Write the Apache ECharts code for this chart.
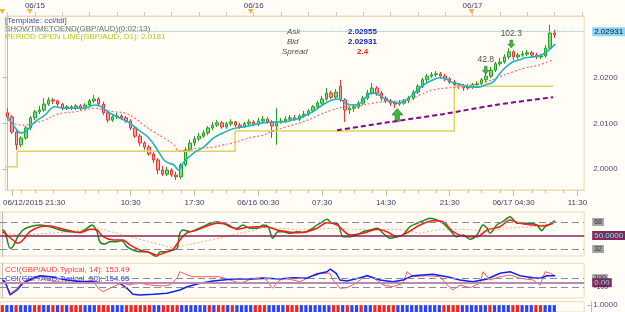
<!DOCTYPE html>
<html><head><meta charset="utf-8">
<script src="https://cdn.jsdelivr.net/npm/echarts@6/dist/echarts.min.js"></script>
<style>html,body{margin:0;padding:0;background:#fffdf6;}#c{width:625px;height:312px;}</style>
</head><body><div id="c"></div>
<script>
const FONT = "'Liberation Sans', Arial, sans-serif";

// ---- time categories (30-minute bars) ----
const fridayTimes = ['21:00','21:30','22:00','22:30','23:00','23:30'];
const timeCats = (function(){
  const out = fridayTimes.map(t => '06/12 ' + t);
  let day = 15, m = 0;
  while (out.length < 127) {
    const hh = String(Math.floor(m/60)).padStart(2,'0'), mm = String(m%60).padStart(2,'0');
    out.push('06/' + day + ' ' + hh + ':' + mm);
    m += 30; if (m >= 1440) { m = 0; day++; }
  }
  return out;
})();
const bottomTickIdx  = [1, 27, 41, 55, 69, 83, 97, 111, 125];
const bottomTickText = ['06/12/2015 21:30','10:30','17:30','06/16 00:30','07:30','14:30','21:30','06/17 04:30','11:30'];
const topTickIdx  = [6, 54, 102];
const topTickText = ['06/15','06/16','06/17'];
const dayMarkerIdx = [0, 6, 54, 102];
const priceTicks = [2.0000, 2.0100, 2.0200];

// ---- GBP/AUD candles [open, close, low, high] ----
const candles = [
[2.0123,2.0114,2.0109,2.0133],[2.0114,2.0081,2.0077,2.0118],[2.0081,2.0053,2.0042,2.0085],[2.0053,2.0068,2.0048,2.0072],
[2.0068,2.0090,2.0064,2.0094],[2.0090,2.0112,2.0085,2.0116],[2.0112,2.0125,2.0107,2.0129],[2.0125,2.0129,2.0120,2.0138],
[2.0129,2.0142,2.0125,2.0155],[2.0142,2.0151,2.0138,2.0157],[2.0151,2.0149,2.0142,2.0155],[2.0149,2.0142,2.0136,2.0151],
[2.0142,2.0133,2.0129,2.0144],[2.0133,2.0136,2.0129,2.0140],[2.0136,2.0133,2.0129,2.0140],[2.0133,2.0138,2.0129,2.0142],
[2.0138,2.0133,2.0129,2.0142],[2.0133,2.0140,2.0131,2.0144],[2.0140,2.0149,2.0136,2.0153],[2.0149,2.0153,2.0144,2.0162],
[2.0153,2.0142,2.0138,2.0157],[2.0142,2.0123,2.0118,2.0147],[2.0123,2.0107,2.0101,2.0127],[2.0107,2.0114,2.0103,2.0120],
[2.0114,2.0116,2.0109,2.0123],[2.0116,2.0112,2.0107,2.0120],[2.0112,2.0105,2.0101,2.0116],[2.0105,2.0090,2.0085,2.0109],
[2.0090,2.0072,2.0068,2.0094],[2.0072,2.0057,2.0050,2.0077],[2.0057,2.0048,2.0042,2.0061],[2.0048,2.0033,2.0029,2.0053],
[2.0033,2.0020,2.0013,2.0037],[2.0020,1.9998,1.9989,2.0024],[1.9998,1.9989,1.9985,2.0007],[1.9989,1.9998,1.9985,2.0005],
[1.9998,1.9987,1.9983,2.0002],[1.9987,1.9983,1.9976,1.9994],[1.9983,2.0009,1.9978,2.0013],[2.0009,2.0042,2.0005,2.0048],
[2.0042,2.0057,2.0037,2.0064],[2.0057,2.0066,2.0050,2.0072],[2.0066,2.0072,2.0061,2.0079],[2.0072,2.0079,2.0068,2.0085],
[2.0079,2.0090,2.0074,2.0094],[2.0090,2.0096,2.0085,2.0103],[2.0096,2.0101,2.0092,2.0107],[2.0101,2.0092,2.0088,2.0105],
[2.0092,2.0099,2.0088,2.0103],[2.0099,2.0103,2.0094,2.0109],[2.0103,2.0096,2.0092,2.0105],[2.0096,2.0092,2.0088,2.0101],
[2.0092,2.0099,2.0090,2.0103],[2.0099,2.0103,2.0094,2.0109],[2.0103,2.0099,2.0094,2.0107],[2.0099,2.0105,2.0094,2.0112],
[2.0105,2.0109,2.0101,2.0116],[2.0109,2.0103,2.0099,2.0114],[2.0103,2.0094,2.0068,2.0107],[2.0094,2.0103,2.0053,2.0133],
[2.0103,2.0105,2.0099,2.0112],[2.0105,2.0109,2.0101,2.0116],[2.0109,2.0112,2.0105,2.0118],[2.0112,2.0109,2.0105,2.0118],
[2.0109,2.0116,2.0105,2.0120],[2.0116,2.0120,2.0112,2.0127],[2.0120,2.0127,2.0116,2.0131],[2.0127,2.0136,2.0123,2.0140],
[2.0136,2.0144,2.0131,2.0149],[2.0144,2.0153,2.0140,2.0160],[2.0153,2.0166,2.0149,2.0177],[2.0166,2.0157,2.0153,2.0171],
[2.0157,2.0168,2.0153,2.0175],[2.0181,2.0151,2.0147,2.0195],[2.0151,2.0129,2.0103,2.0155],[2.0129,2.0133,2.0120,2.0138],
[2.0133,2.0136,2.0125,2.0142],[2.0136,2.0144,2.0131,2.0149],[2.0144,2.0155,2.0140,2.0160],[2.0155,2.0166,2.0151,2.0173],
[2.0166,2.0177,2.0162,2.0188],[2.0177,2.0166,2.0160,2.0181],[2.0166,2.0155,2.0149,2.0171],[2.0155,2.0149,2.0144,2.0160],
[2.0149,2.0144,2.0138,2.0153],[2.0144,2.0142,2.0133,2.0149],[2.0142,2.0144,2.0138,2.0151],[2.0144,2.0149,2.0140,2.0153],
[2.0149,2.0155,2.0144,2.0160],[2.0155,2.0168,2.0151,2.0173],[2.0168,2.0181,2.0164,2.0186],[2.0181,2.0195,2.0177,2.0199],
[2.0195,2.0203,2.0190,2.0208],[2.0203,2.0206,2.0199,2.0212],[2.0206,2.0208,2.0201,2.0214],[2.0208,2.0203,2.0199,2.0212],
[2.0203,2.0197,2.0192,2.0208],[2.0197,2.0190,2.0186,2.0201],[2.0190,2.0184,2.0173,2.0195],[2.0184,2.0181,2.0175,2.0188],
[2.0181,2.0177,2.0171,2.0186],[2.0177,2.0179,2.0173,2.0186],[2.0179,2.0184,2.0175,2.0188],[2.0184,2.0186,2.0179,2.0192],
[2.0186,2.0195,2.0181,2.0199],[2.0195,2.0203,2.0190,2.0210],[2.0203,2.0216,2.0199,2.0223],[2.0216,2.0230,2.0212,2.0234],
[2.0230,2.0234,2.0225,2.0243],[2.0234,2.0245,2.0230,2.0251],[2.0245,2.0256,2.0240,2.0264],[2.0256,2.0245,2.0238,2.0260],
[2.0245,2.0249,2.0240,2.0254],[2.0249,2.0251,2.0245,2.0258],[2.0251,2.0254,2.0247,2.0260],[2.0254,2.0249,2.0245,2.0258],
[2.0249,2.0245,2.0240,2.0254],[2.0245,2.0247,2.0240,2.0251],[2.0247,2.0264,2.0243,2.0271],[2.0264,2.0297,2.0260,2.0315],
[2.0297,2.02931,2.0286,2.0304]
];
const bidPrice = 2.02931;

// ---- overlays on price panel: [bar index, value] ----
const fastMA = [[0,2.0114],[1.7,2.0090],[2.8,2.0079],[3.8,2.0081],[6,2.0103],[8.2,2.0118],[10.4,2.0136],[12.5,2.0133],[16.9,2.0133],
[19.1,2.0140],[20.6,2.0136],[22.3,2.0123],[24.5,2.0112],[26.7,2.0101],[28.8,2.0085],[31,2.0068],[33.2,2.0037],[34.3,2.0020],
[35.4,2.0013],[36.5,2.0009],[37.5,1.9998],[38.6,2.0015],[40.8,2.0035],[43,2.0048],[45.2,2.0068],[47.3,2.0079],[49.5,2.0088],
[51.7,2.0092],[53.8,2.0096],[56,2.0101],[58.2,2.0103],[60.4,2.0103],[62.5,2.0107],[64.7,2.0114],[66.9,2.0125],[69.1,2.0140],
[71.2,2.0151],[72.8,2.0153],[74.1,2.0144],[75.6,2.0140],[77.1,2.0142],[78.4,2.0155],[79.9,2.0166],[81.5,2.0162],[82.8,2.0153],
[84.3,2.0147],[85.8,2.0144],[87.1,2.0149],[88.6,2.0160],[90.4,2.0177],[91.9,2.0188],[93.4,2.0195],[94.7,2.0199],[96.2,2.0197],
[97.8,2.0188],[99.1,2.0186],[100.6,2.0181],[102.1,2.0179],[103.4,2.0179],[104.9,2.0184],[106.5,2.0190],[107.8,2.0206],
[109.3,2.0223],[110.8,2.0234],[112.1,2.0238],[113.6,2.0243],[115.2,2.0245],[116.5,2.0247],[118,2.0254],[119.5,2.0267],[120.2,2.0273]];
const slowMA = [[0,2.0107],[2.8,2.0096],[3.8,2.0096],[6,2.0101],[8.2,2.0107],[10.4,2.0118],[12.5,2.0123],[14.7,2.0125],[16.9,2.0129],
[19.1,2.0133],[21.2,2.0129],[23.4,2.0125],[25.6,2.0123],[27.8,2.0112],[29.9,2.0096],[32.1,2.0081],[34.3,2.0068],[36.5,2.0053],
[37.5,2.0040],[39.7,2.0042],[41.9,2.0046],[45.2,2.0048],[47.3,2.0053],[49.5,2.0057],[51.7,2.0064],[53.8,2.0070],[56,2.0074],
[58.2,2.0083],[61,2.0092],[65.4,2.0105],[68.4,2.0118],[71.2,2.0129],[74.1,2.0136],[77.1,2.0138],[79.9,2.0144],[82.8,2.0147],
[85.8,2.0149],[88.6,2.0153],[90.4,2.0162],[93.4,2.0173],[96.2,2.0177],[99.1,2.0179],[102.1,2.0184],[104.9,2.0190],[107.8,2.0201],
[110.8,2.0212],[113.6,2.0221],[116.5,2.0227],[119.5,2.0238]];
const trendMA = [[72.3,2.0085],[84,2.0103],[95.5,2.0120],[107,2.0140],[119.7,2.0157]];
const periodOpen = [[-0.5,2.0005],[2.1,2.0039],[49.9,2.0083],[98,2.0181],[119.7,2.0181]];
const arrowsDown = [{name:'42.8', value:[104.9,2.0216]},{name:'102.3', value:[110.5,2.0273]}];
const arrowsUp = [{name:'', value:[85.5,2.0118]}];

// ---- TDI panel ----
const tdiPrice = [[0,57.3],[0.6,55.1],[1.7,32.9],[2.3,35.1],[3.4,48.4],[4.5,57.3],[6,61.7],[8.2,64],[10.4,61.7],[12.5,57.3],[14.7,55.1],
[16.9,54.3],[18.4,59.6],[19.5,64],[20.6,55.1],[21.2,41.7],[22.3,38.7],[23.4,41.7],[24.9,41.7],[26,43.1],[27.1,35.1],[28.4,30.7],
[29.9,28.4],[31.5,28.4],[32.8,24],[33.6,21.7],[34.3,28.4],[35.8,28.4],[37.1,30.7],[38,32.9],[38.6,52.9],[39.3,57.3],[40.8,55.1],
[42.3,58.3],[43.6,61.7],[45.2,66.3],[46.7,68.4],[48,66.3],[49.5,61.7],[51,59.6],[52.3,64],[53.8,59.6],[55.4,59.6],[56.7,64],
[57.8,61.7],[58.8,46.3],[59.9,55.1],[61,55.1],[62.5,52.9],[64.1,55.1],[65.4,54],[66.9,57.3],[68.4,64],[69.1,66.3],[70.6,71.6],
[71.7,66.3],[72.8,66.3],[74.1,48.4],[75.6,48.4],[77.1,50.7],[78.4,55.1],[79.9,57.3],[81.5,59.6],[82.8,52.9],[84.3,46.3],[85.8,48.4],
[87.1,50.7],[88.6,61.7],[90.2,66.3],[91.5,69.7],[93,72.9],[94.5,70.7],[95.8,66.3],[97.3,57.3],[98.8,48.4],[100.2,50.7],[101.7,44.9],
[103.2,50.7],[104.5,64],[105.4,59.6],[106,52.9],[107.5,64],[108.8,68.4],[110.4,75.1],[111.9,66.3],[113.2,66.3],[114.7,66.3],
[116.2,64],[117.3,56.4],[118,61.7],[119.1,65.3],[120.2,69.7]];
const tdiSignal = [[0,55.1],[1,50.7],[2.3,44],[3.4,39.6],[4.5,44],[6,55.1],[8.2,61.7],[10.4,62.7],[12.5,59.6],[14.7,56.4],[16.9,53.7],
[19.1,58.3],[20.6,57.3],[21.9,48.4],[24.1,44],[26.2,44],[27.8,37.3],[29.9,30.7],[32.1,27.1],[33.6,24],[35.8,28.4],[37.1,31.6],
[38.6,44],[40.2,53.7],[42.3,57.3],[44.5,62.7],[46.7,66.3],[48.8,64.9],[51,58.3],[53.2,60.9],[55.4,61.7],[57.5,61.7],[59.7,57.3],
[61.9,55.1],[64.1,53.7],[66.2,55.1],[68.4,59.6],[70.6,67.1],[72.8,64],[75.6,50.7],[78.4,52.9],[81.5,58.3],[83.6,55.1],[85.8,48.4],
[88,53.7],[90.8,64],[93.6,69.7],[95.8,68.4],[98,55.1],[101,48.4],[103.2,48.4],[105.4,57.3],[108.2,61.7],[110.4,70.7],[112.5,66.3],
[115.4,64],[117.5,62.7],[119.7,66.3]];
const tdiBase = [[0.6,53.3],[3.8,50.7],[8.2,52],[14.1,54.7],[20.6,60],[28.8,46.7],[37.1,33.3],[47.3,46.7],[57.5,61.3],[64.7,57.3],
[71.9,59.6],[79.3,57.3],[86.5,58.3],[90.8,53],[95.2,58.3],[101,58.3],[105.4,55.1],[109.7,59.6],[115.4,61.7],[119.7,66.3]];
const tdiLevels = [68, 50, 32];

// ---- CCI panel ----
const cci14 = [[0,60],[0.6,22],[1.7,-236],[2.8,-162],[3.8,-51],[5.4,60],[6.7,98],[8.2,133],[9.7,98],[11,22],[14.1,9],[16.2,-13],
[18.4,38],[19.7,60],[20.8,-124],[21.9,-200],[23.4,-124],[24.9,-51],[26.2,-13],[27.8,-51],[28.4,-29],[30.1,-13],[32.1,-51],[34.9,-73],
[36.5,-51],[38,104],[38.6,244],[40.2,171],[41.5,133],[44.5,133],[47.3,133],[49.5,60],[51.7,-13],[54.5,98],[57,120],[58.2,-51],
[58.8,-124],[59.9,22],[61,98],[63.2,60],[64.7,22],[66.9,133],[68.4,209],[71.2,209],[71.9,60],[73.4,-124],[74.9,-111],[76.2,-51],
[77.8,60],[79.3,171],[80.6,111],[82.8,-51],[84.9,-89],[87.1,-13],[88,244],[89.3,133],[92.3,156],[95.2,133],[96.7,-51],[98,-162],
[99.5,-51],[101.7,-111],[103.8,-13],[104.5,244],[106,60],[108.2,133],[110.4,171],[112.5,98],[115.4,60],[116.9,-51],[118,244],
[119.1,209],[120.2,153]];
const cci50 = [[0,60],[0.6,22],[1.7,-273],[3.2,-162],[4.5,-13],[6.7,98],[8.2,156],[10.5,133],[11.9,98],[14.1,60],[16.9,22],[19.7,22],
[22.8,-13],[25.6,-13],[27.1,-124],[28.4,-258],[29.9,-273],[32.8,-258],[35.8,-236],[38.6,-162],[40.2,-89],[43,-13],[45.8,38],[50.2,82],
[54.5,82],[57.5,98],[60.4,82],[63.2,111],[66.2,98],[67.5,156],[69.1,209],[70.6,244],[71.3,304],[72.6,209],[73.4,60],[74.9,38],
[77.8,111],[79.3,156],[82.1,60],[84.9,22],[87.1,60],[89.3,156],[93.6,187],[96.7,133],[99.5,60],[102.3,22],[105.4,82],[108.2,209],
[110.4,244],[112.5,156],[115.4,111],[116.9,98],[118.4,156],[120.2,155]];
const cciLevels = [100, 0, -100];

// ---- colour strip: R = red, B = blue, one per bar ----
const stripColors = "RBBRBBBRRB"+"BRBRBRRRBB"+"BRRRBBBRRR"+"RRRBBRRRRB"+"BBBBBRBRRB"+"RBBBBRRRBB"+"BBRRRBBBBB"+
                    "BBRRBRBBRB"+"BRRRRRBBBB"+"BBBBBBRRRR"+"BBBBBBRBBB"+"BRRBBBRRBB"+"B";

// ---------------------------------------------------------------
const chart = echarts.init(document.getElementById('c'), null, {renderer:'canvas'});
const GL = 0, GW = 584.2;
const frame = '#efd8b6';
const axisTxt = '#3c3c6e';

function lvlLabel(text, bg, fg, fs){ return {show:true, position:'end', distance:8, formatter:text, backgroundColor:bg, color:fg,
  padding:[1,2,0,2], fontSize:fs||8, fontFamily:FONT}; }

const option = {
  backgroundColor:'#fffdf6',
  animation:false,
  grid:[
    {left:GL, width:GW, top:16, height:174, show:true, borderColor:frame, borderWidth:1},
    {left:GL, width:GW, top:212, height:44, show:true, borderColor:frame, borderWidth:1},
    {left:GL, width:GW, top:263.3, height:34.7, show:true, borderColor:frame, borderWidth:1},
    {left:GL, width:GW, top:301.7, height:10.3, show:true, borderColor:frame, borderWidth:1},
    {left:GL, width:GW, top:8, height:7}
  ],
  xAxis:[
    {type:'category', gridIndex:0, data:timeCats, boundaryGap:true, position:'bottom',
     axisLine:{show:true, lineStyle:{color:frame}},
     axisTick:{show:true, alignWithLabel:true, length:6, interval:(i)=>bottomTickIdx.includes(i), lineStyle:{color:'#c9bba2'}},
     axisLabel:{show:true, margin:9, interval:(i)=>bottomTickIdx.includes(i), color:axisTxt, fontSize:8, fontFamily:FONT,
       formatter:(v,i)=>{const j=bottomTickIdx.indexOf(i); return j===0?('{f|'+bottomTickText[0]+'}'):bottomTickText[j];},
       rich:{f:{padding:[0,0,0,44], color:axisTxt, fontSize:8, fontFamily:FONT}}},
     splitLine:{show:false}},
    {type:'category', gridIndex:0, data:timeCats, boundaryGap:true, position:'top',
     axisLine:{show:true, lineStyle:{color:frame}},
     axisTick:{show:true, alignWithLabel:true, length:4, interval:(i)=>i%6===0, lineStyle:{color:'#c8c8c8'}},
     axisLabel:{show:true, margin:6, interval:(i)=>topTickIdx.includes(i), color:axisTxt, fontSize:8, fontFamily:FONT,
       formatter:(v,i)=>topTickText[topTickIdx.indexOf(i)]},
     splitLine:{show:false}},
    {type:'value', gridIndex:0, min:-0.5, max:126.5, show:false},
    {type:'category', gridIndex:0, data:timeCats, boundaryGap:true, position:'bottom',
     axisLine:{show:false}, axisLabel:{show:false},
     axisTick:{show:true, alignWithLabel:true, length:3, interval:(i)=>{const r=((i-27)%14+14)%14; return r===4||r===7||r===11;}, lineStyle:{color:'#c9bba2'}}},
    {type:'value', gridIndex:1, min:-0.5, max:126.5, show:false},
    {type:'value', gridIndex:2, min:-0.5, max:126.5, show:false},
    {type:'category', gridIndex:3, data:timeCats, boundaryGap:true, show:false},
    {type:'category', gridIndex:4, data:timeCats, boundaryGap:true, show:false}
  ],
  yAxis:[
    {type:'value', gridIndex:0, min:1.995437, max:2.033428, position:'right', offset:7, scale:true,
     axisLine:{show:true, lineStyle:{color:'#b8b8cc'}}, splitLine:{show:false},
     axisTick:{show:true, inside:true, length:5, customValues:priceTicks, lineStyle:{color:'#b8b8cc'}},
     axisLabel:{show:true, customValues:priceTicks, formatter:(v)=>v.toFixed(4), color:'#4a4a7c', fontSize:8, fontFamily:FONT, margin:2}},
    {type:'value', gridIndex:1, min:22.667, max:81.333, position:'right', offset:7,
     axisLine:{show:true, lineStyle:{color:'#b8b8cc'}}, splitLine:{show:false}, axisTick:{show:false}, axisLabel:{show:false}},
    {type:'value', gridIndex:2, min:-340, max:431, position:'right', offset:7,
     axisLine:{show:true, lineStyle:{color:'#b8b8cc'}}, splitLine:{show:false}, axisTick:{show:false}, axisLabel:{show:false}},
    {type:'value', gridIndex:3, min:0, max:1.5, position:'right', offset:7,
     axisLine:{show:true, lineStyle:{color:'#b8b8cc'}}, splitLine:{show:false},
     axisTick:{show:true, inside:true, length:4, customValues:[1], lineStyle:{color:'#b8b8cc'}},
     axisLabel:{show:true, customValues:[1], formatter:()=> '1.0000', color:'#4a4a7c', fontSize:8, fontFamily:FONT, margin:2}},
    {type:'value', gridIndex:4, min:0, max:1, show:false}
  ],
  series:[
    {type:'candlestick', xAxisIndex:0, yAxisIndex:0, data:candles, barWidth:3,
     itemStyle:{color:'#86d886', borderColor:'#22a022', color0:'#f7a5a5', borderColor0:'#e83434', borderWidth:1},
     markLine:{silent:true, symbol:'none', data:[{yAxis:bidPrice}],
       lineStyle:{color:'#5cc4f2', type:'dotted', width:1},
       label:lvlLabel(String(bidPrice), '#8cd6f6', '#101030', 8)}},
    {type:'line', xAxisIndex:2, yAxisIndex:0, data:periodOpen, step:'end', showSymbol:false,
     lineStyle:{color:'#ddd460', width:1.5}},
    {type:'line', xAxisIndex:2, yAxisIndex:0, data:trendMA, showSymbol:false, smooth:0.3,
     lineStyle:{color:'#800a86', width:2, type:[5,3]}},
    {type:'line', xAxisIndex:2, yAxisIndex:0, data:slowMA, showSymbol:false, smooth:0.4,
     lineStyle:{color:'#ff6b6b', width:1.2, type:[2,2]}},
    {type:'line', xAxisIndex:2, yAxisIndex:0, data:fastMA, showSymbol:false, smooth:0.4,
     lineStyle:{color:'#1cb4c4', width:1.6}},
    {type:'scatter', xAxisIndex:2, yAxisIndex:0, data:arrowsDown, symbol:'path://M3,0L7,0L7,5L10,5L5,10L0,5L3,5Z',
     symbolSize:[7,8], itemStyle:{color:'#18a018', borderColor:'#0a600a', borderWidth:0.5},
     label:{show:true, position:'top', distance:2, formatter:(p)=>p.name, color:'#202020', fontSize:8.5, fontFamily:FONT}},
    {type:'scatter', xAxisIndex:2, yAxisIndex:0, data:arrowsUp, symbol:'path://M5,0L10,5L7,5L7,10L3,10L3,5L0,5Z',
     symbolSize:[11,13], itemStyle:{color:'#14a014', borderColor:'#0a600a', borderWidth:0.6}},
    {type:'line', xAxisIndex:4, yAxisIndex:1, data:tdiBase, showSymbol:false,
     lineStyle:{color:'#f2ac7c', width:1, type:[2,2]},
     markLine:{silent:true, symbol:'none', data:[
       {yAxis:tdiLevels[0], lineStyle:{color:'#8c8c8c', type:[7,4], width:1}, label:lvlLabel('68','#a4a4a4','#303030',7)},
       {yAxis:tdiLevels[1], lineStyle:{color:'#8a2456', type:'solid', width:1.5}, label:lvlLabel('50.0000','#8a2456','#50ffff',8)},
       {yAxis:tdiLevels[2], lineStyle:{color:'#8c8c8c', type:[7,4], width:1}, label:lvlLabel('32','#a4a4a4','#303030',7)}]}},
    {type:'line', xAxisIndex:4, yAxisIndex:1, data:tdiPrice, showSymbol:false, smooth:0.3,
     lineStyle:{color:'#1a8a1a', width:1.5}},
    {type:'line', xAxisIndex:4, yAxisIndex:1, data:tdiSignal, showSymbol:false, smooth:0.3,
     lineStyle:{color:'#ff1a1a', width:1.5}},
    {type:'line', xAxisIndex:5, yAxisIndex:2, data:cci14, showSymbol:false,
     lineStyle:{color:'#ff5a5a', width:1},
     markLine:{silent:true, symbol:'none', data:[
       {yAxis:cciLevels[0], lineStyle:{color:'#8888a8', type:[7,4], width:1}, label:lvlLabel('100','#a4a4a4','#303030',7)},
       {yAxis:cciLevels[1], lineStyle:{color:'#b98ab4', type:'solid', width:2}, label:lvlLabel('0.00','#8a2456','#50ffff',8)},
       {yAxis:cciLevels[2], lineStyle:{color:'#8888a8', type:[7,4], width:1}, label:lvlLabel('-100','rgba(0,0,0,0)','#303050',7)}]}},
    {type:'line', xAxisIndex:5, yAxisIndex:2, data:cci50, showSymbol:false,
     lineStyle:{color:'#1020f0', width:1.5}},
    {type:'bar', xAxisIndex:6, yAxisIndex:3, barCategoryGap:'30%',
     data:stripColors.split('').map(c=>({value:1, itemStyle:{color:c==='R'?'#f02424':'#2a44f4'}}))},
    {type:'scatter', xAxisIndex:7, yAxisIndex:4, symbol:'triangle', symbolRotate:180, symbolSize:[6,5],
     data:dayMarkerIdx.map(i=>[i,0.5]), itemStyle:{color:'#f0a020'}}
  ],
  graphic:[
    {type:'text', x:5, y:21, style:{text:'[Template: cci/tdi]', fill:'#3a52a8', font:'8px '+FONT, textVerticalAlign:'middle', verticalAlign:'middle'}},
    {type:'text', x:5, y:29, style:{text:'SHOWTIMETOEND(GBP/AUD)(0:02:13)', fill:'#6c6c6c', font:'8px '+FONT, textVerticalAlign:'middle', verticalAlign:'middle'}},
    {type:'text', x:5, y:37, style:{text:'PERIOD OPEN LINE(GBP/AUD, D1): 2.0181', fill:'#c2c21e', font:'8px '+FONT, textVerticalAlign:'middle', verticalAlign:'middle'}},
    {type:'text', x:287, y:32, style:{text:'Ask', fill:'#505050', font:'italic 8px '+FONT, textVerticalAlign:'middle', verticalAlign:'middle'}},
    {type:'text', x:287, y:42, style:{text:'Bid', fill:'#505050', font:'italic 8px '+FONT, textVerticalAlign:'middle', verticalAlign:'middle'}},
    {type:'text', x:282, y:52, style:{text:'Spread', fill:'#505050', font:'italic 8px '+FONT, textVerticalAlign:'middle', verticalAlign:'middle'}},
    {type:'text', x:348, y:32, style:{text:'2.02955', fill:'#1020c0', font:'bold 8px '+FONT, textVerticalAlign:'middle', verticalAlign:'middle'}},
    {type:'text', x:348, y:42, style:{text:'2.02931', fill:'#1020c0', font:'bold 8px '+FONT, textVerticalAlign:'middle', verticalAlign:'middle'}},
    {type:'text', x:357, y:52, style:{text:'2.4', fill:'#f01818', font:'bold 8px '+FONT, textVerticalAlign:'middle', verticalAlign:'middle'}},
    {type:'text', x:5, y:270, style:{text:'CCI(GBP/AUD.Typical, 14): 153.49', fill:'#ff3a3a', font:'8px '+FONT, textVerticalAlign:'middle', verticalAlign:'middle'}},
    {type:'text', x:5, y:278.5, style:{text:'CCI(GBP/AUD.Typical, 50): 154.65', fill:'#3040f0', font:'8px '+FONT, textVerticalAlign:'middle', verticalAlign:'middle'}}
  ]
};
chart.setOption(option);
</script></body></html>
